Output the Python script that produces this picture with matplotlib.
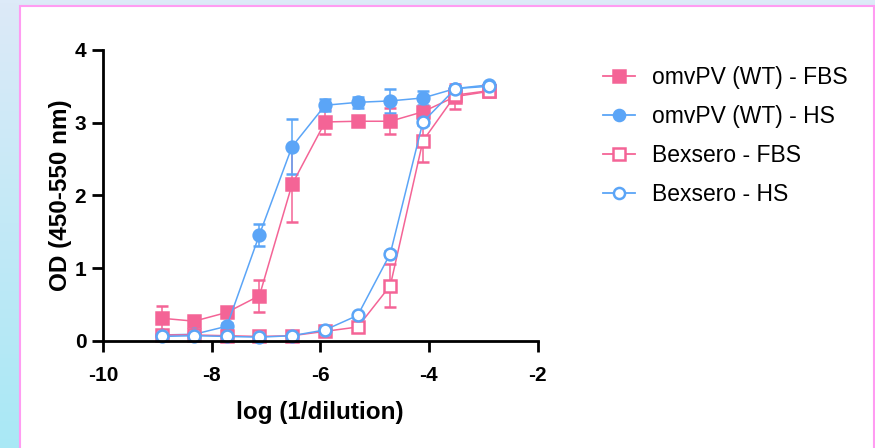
import numpy as np
import matplotlib
matplotlib.use("Agg")
from matplotlib import pyplot as plt
from matplotlib.patches import Rectangle
from matplotlib.lines import Line2D
from matplotlib.colors import LinearSegmentedColormap

plt.rcParams['font.family'] = ['Liberation Sans', 'DejaVu Sans']
plt.rcParams['axes.unicode_minus'] = False

# log(1/dilution), 4-fold dilution series
log_dil = [-8.92, -8.32, -7.72, -7.12, -6.52, -5.91, -5.31, -4.71, -4.11, -3.51, -2.90]

omv_fbs = [0.31, 0.27, 0.39, 0.62, 2.15, 3.01, 3.02, 3.02, 3.15, 3.36, 3.43]
omv_fbs_sd = [0.17, 0.03, 0.05, 0.22, 0.52, 0.16, 0.05, 0.18, 0.06, 0.17, 0.04]

omv_hs = [0.08, 0.09, 0.20, 1.46, 2.67, 3.24, 3.28, 3.30, 3.34, 3.47, 3.52]
omv_hs_sd = [0.03, 0.03, 0.04, 0.15, 0.38, 0.08, 0.08, 0.16, 0.10, 0.04, 0.03]

bex_fbs = [0.08, 0.08, 0.07, 0.06, 0.07, 0.13, 0.19, 0.76, 2.75, 3.38, 3.44]
bex_fbs_sd = [0.02, 0.02, 0.02, 0.02, 0.02, 0.03, 0.03, 0.29, 0.29, 0.05, 0.03]

bex_hs = [0.06, 0.07, 0.06, 0.05, 0.07, 0.15, 0.35, 1.20, 3.01, 3.47, 3.50]
bex_hs_sd = [0.02, 0.02, 0.02, 0.02, 0.02, 0.02, 0.03, 0.04, 0.04, 0.03, 0.03]

pink = '#F46496'
blue = '#5BA5F7'

fig = plt.figure(figsize=(8.75, 4.48), dpi=100)

# pozadi: svetle modry prechod a bily panel s ruzovym okrajem
bg = fig.add_axes([0, 0, 1, 1], zorder=-10)
cmap = LinearSegmentedColormap.from_list('bg', ['#DDEAF8', '#A9E8F5'])
bg.imshow(np.linspace(0, 1, 100).reshape(-1, 1), aspect='auto', cmap=cmap,
          extent=[0, 1, 0, 1])
bg.add_patch(Rectangle((20 / 875, -0.01), 854 / 875, 1.01 - 6 / 448,
                       facecolor='white', edgecolor='#FF9CF2', linewidth=1.5))
bg.set_xlim(0, 1)
bg.set_ylim(0, 1)
bg.axis('off')

ax = fig.add_axes([103 / 875, 107.2 / 448, 434.5 / 875, 290.8 / 448])
ax.patch.set_alpha(0)

series = [
    (omv_fbs, omv_fbs_sd, pink, 's', pink, 'omvPV (WT) - FBS'),
    (omv_hs, omv_hs_sd, blue, 'o', blue, 'omvPV (WT) - HS'),
    (bex_fbs, bex_fbs_sd, pink, 's', 'white', 'Bexsero - FBS'),
    (bex_hs, bex_hs_sd, blue, 'o', 'white', 'Bexsero - HS'),
]

handles = []
for vals, sd, col, mk, face, lab in series:
    ax.errorbar(log_dil, vals, yerr=sd, color=col, marker=mk, markersize=8.5,
                markerfacecolor=face, markeredgecolor=col, markeredgewidth=1.8,
                linewidth=1.1, elinewidth=1.1, capsize=4, capthick=1.1,
                clip_on=False)
    handles.append(Line2D([], [], color=col, marker=mk, markersize=8,
                          markerfacecolor=face, markeredgecolor=col,
                          markeredgewidth=1.8, linewidth=1.3, label=lab))

ax.set_xlim(-10, -2)
ax.set_ylim(0, 4)
ax.set_xticks([-10, -8, -6, -4, -2])
ax.set_yticks([0, 1, 2, 3, 4])
for s in ['top', 'right']:
    ax.spines[s].set_visible(False)
for s in ['left', 'bottom']:
    ax.spines[s].set_linewidth(2)
ax.tick_params(width=2, length=8, labelsize=15)
ax.tick_params(axis='x', pad=10)
ax.tick_params(axis='y', pad=4)
for t in ax.get_xticklabels() + ax.get_yticklabels():
    t.set_fontweight('bold')

ax.set_xlabel('log (1/dilution)', fontsize=17.5, fontweight='bold', labelpad=12)
ax.set_ylabel('OD (450-550 nm)', fontsize=17.5, fontweight='bold', labelpad=2)

fig.legend(handles=handles, loc='upper left',
           bbox_to_anchor=(603 / 875, 1 - 66 / 448),
           frameon=False, fontsize=16.5, handlelength=1.4, handletextpad=0.73,
           labelspacing=0.7, borderpad=0, borderaxespad=0)

plt.savefig('out.png', dpi=100)
